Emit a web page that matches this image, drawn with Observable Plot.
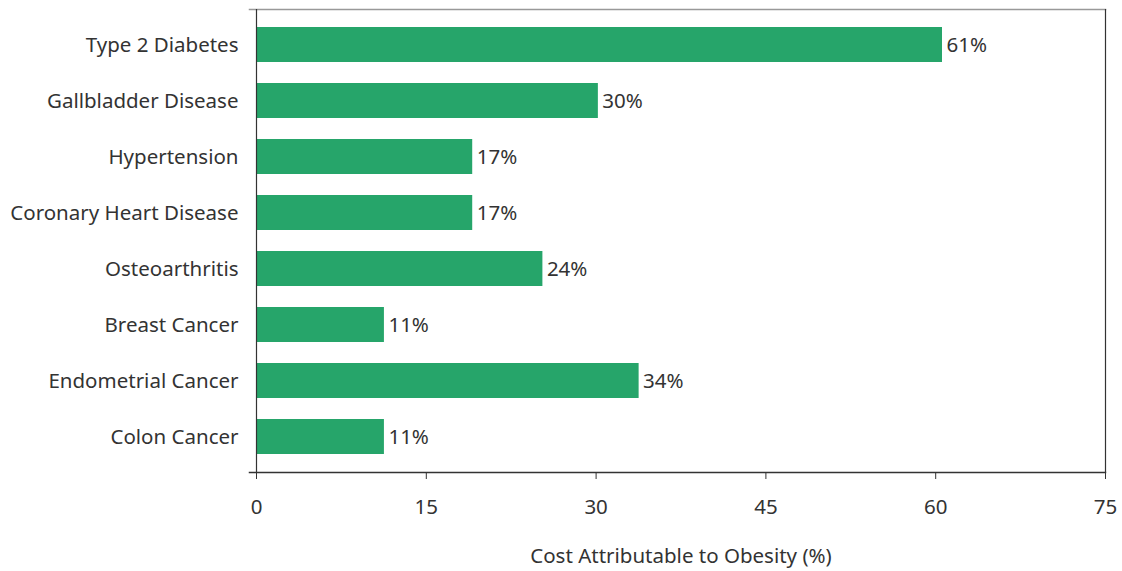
<!DOCTYPE html>
<html>
<head>
<meta charset="utf-8">
<script src="https://cdn.jsdelivr.net/npm/d3@7"></script>
<script src="https://cdn.jsdelivr.net/npm/@observablehq/plot@0.6"></script>
<style>
  html, body { margin: 0; padding: 0; background: #fff; }
  svg { font-family: "Noto Sans", "Open Sans", sans-serif; }
</style>
</head>
<body>
<div id="chart"></div>
<script>
const categories = ["Type 2 Diabetes", "Gallbladder Disease", "Hypertension", "Coronary Heart Disease", "Osteoarthritis", "Breast Cancer", "Endometrial Cancer", "Colon Cancer"];
const values = [60.6, 30.2, 19.1, 19.1, 25.3, 11.3, 33.8, 11.3];
const labels = ["61%", "30%", "17%", "17%", "24%", "11%", "34%", "11%"];
const xTicks = [0, 15, 30, 45, 60, 75];
const xTitle = "Cost Attributable to Obesity (%)";

const data = categories.map((c, i) => ({category: c, value: values[i], label: labels[i]}));
const textColor = "#333333";
const fs = 20.5;

const chart = Plot.plot({
  width: 1122,
  height: 571,
  marginLeft: 256,
  marginRight: 17,
  marginTop: 9,
  marginBottom: 99,
  style: {fontSize: fs + "px", color: textColor, background: "#fff"},
  x: {domain: [0, 75]},
  y: {domain: categories, paddingInner: 0.377, paddingOuter: 0.3},
  marks: [
    Plot.frame({anchor: "top", stroke: "#999", strokeWidth: 1.5, insetLeft: -7}),
    Plot.frame({anchor: "bottom", stroke: "#333", strokeWidth: 1.5, insetLeft: -7}),
    Plot.barX(data, {x: "value", y: "category", fill: "#26a56a"}),
    Plot.text(data, {x: "value", y: "category", text: "label", textAnchor: "start", dx: 4, fill: textColor, fontSize: fs}),
    Plot.ruleX([0, 75], {stroke: "#333", strokeWidth: 1.2}),
    Plot.axisX({ticks: xTicks, tickSize: 7, tickPadding: 20, stroke: "#333", fill: textColor, fontSize: fs,
      label: xTitle, labelAnchor: "center", labelArrow: "none", labelOffset: 90}),
    Plot.axisY({tickSize: 0, tickPadding: 18, fill: textColor, fontSize: fs, label: null})
  ]
});
document.getElementById("chart").appendChild(chart);
</script>
</body>
</html>
